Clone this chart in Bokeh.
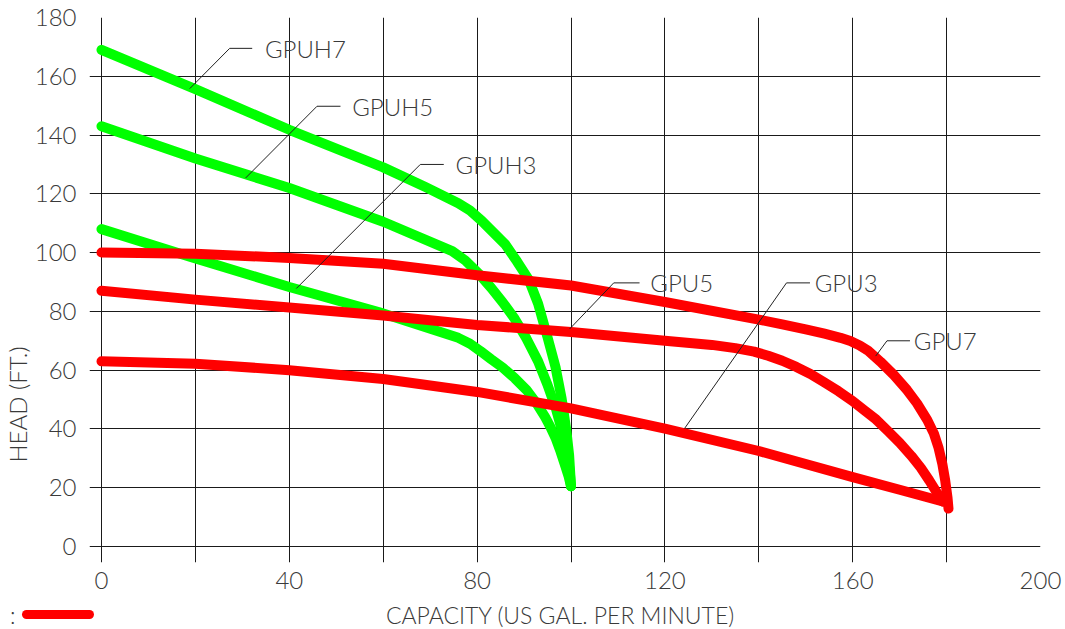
from bokeh.plotting import figure
from bokeh.layouts import column
from bokeh.models import Range1d, FixedTicker, Title
from bokeh.embed import file_html
from bokeh.resources import INLINE
from bokeh.core.properties import value

FONT = "Lato Light, Lato"
FS = "24px"
TXT = "#3a3a3a"

# ---- data ----
x_ticks = [0, 20, 40, 60, 80, 100, 120, 140, 160, 180, 200]
x_tick_labels = {20: "", 60: "", 100: "", 140: "", 180: ""}
y_ticks = [0, 20, 40, 60, 80, 100, 120, 140, 160, 180]

gpuh7_q = [0, 20, 40, 60, 69, 76, 78.5, 81, 83.5, 86, 88.5, 91, 93, 95, 96.7, 98, 99, 99.6, 100]
gpuh7_h = [169, 155.6, 141.8, 129, 122.3, 116.8, 114.3, 110.8, 106.8, 102.8, 97, 90.8, 82.6, 71.2, 61.1, 50.4, 39.6, 31, 20.5]

gpuh5_q = [0, 20, 40, 60, 74.7, 77.5, 80.5, 83, 85.5, 88, 90.5, 93, 95, 96.8, 98.2, 99.2, 99.7, 100]
gpuh5_h = [143, 132, 122, 110.5, 100.5, 97.3, 92.6, 88, 83, 77.5, 70.8, 63, 55, 46.8, 38.7, 31.6, 26, 20.5]

gpuh3_q = [0, 19, 40, 59, 76, 78.5, 80.7, 83, 85.5, 88, 90.5, 92.8, 94.5, 95.6, 96.8, 97.8, 98.8, 99.5, 100]
gpuh3_h = [108, 98.5, 88.3, 79.8, 71, 69, 66.5, 63.7, 60.8, 57.3, 53.3, 48.4, 44, 40.7, 36.6, 32.2, 27.3, 23.8, 20.5]

gpu7_q = [0, 20, 40, 60, 80, 100, 120, 140, 145, 150, 154, 157.4, 159.5, 161.5, 163.3, 165.9, 168.8,
          171.6, 173.7, 175.9, 177.3, 178.3, 179.1, 179.7, 180.2, 180.4]
gpu7_h = [100, 99.6, 98.2, 96.2, 92.3, 88.8, 83.2, 77.2, 75.6, 73.9, 72.4, 71.0, 69.9, 68.4, 66.6, 62.9, 58.3,
          53.2, 48.7, 43.0, 38.4, 33.5, 28.0, 22.5, 16.5, 12.9]

gpu5_q = [0, 20, 40, 60, 80, 100, 120, 130, 135, 139, 142, 145, 148, 151, 154, 157, 160, 162.5, 165,
          167.5, 170, 172.5, 174.5, 176.3, 177.8, 179.2]
gpu5_h = [87, 84, 81.3, 78.6, 75.4, 73, 70, 68.6, 67.5, 66.3, 64.9, 63.2, 61.1, 58.7, 55.8, 52.8, 49.5, 46.3, 43.2,
          39.3, 35.3, 30.8, 26.8, 22.5, 18.7, 15.3]

gpu3_q = [0, 20, 40, 60, 80, 100, 120, 140, 160, 170, 179.2]
gpu3_h = [63, 62.2, 60, 57, 52.6, 47, 40.1, 32.5, 23.6, 19.3, 15.3]

# curve labels with leader lines (tip on curve -> elbow -> end)
label_names = ["GPUH7", "GPUH5", "GPUH3", "GPU5", "GPU3", "GPU7"]
label_x = [34.8, 53.4, 75.4, 116.9, 151.9, 173.0]
label_y = [169.5, 149.8, 130.0, 89.7, 89.7, 70.0]
leader_tip_x = [18.8, 30.7, 41.5, 99.7, 124.2, 164.9]
leader_tip_y = [155.8, 125.4, 87.8, 74.0, 40.2, 64.8]
leader_elbow_x = [27.3, 45.9, 67.9, 109.1, 145.9, 167.3]
leader_end_x = [32.1, 50.9, 72.9, 114.6, 150.9, 172.2]

x_title = "CAPACITY (US GAL. PER MINUTE)"
y_title = "HEAD (FT.)"

GREEN = "#00ff00"
RED = "#ff0000"
LW = 10

# ---- main figure ----
p = figure(frame_width=951, frame_height=545,
           min_border_left=89, min_border_right=25, min_border_top=17, min_border_bottom=38,
           x_range=Range1d(-2.556, 200), y_range=Range1d(-5.44, 180),
           output_backend="svg", toolbar_location=None)
p.outline_line_color = None
p.background_fill_color = "white"
p.border_fill_color = "white"

for ax in (p.xaxis[0], p.yaxis[0]):
    ax.axis_line_color = None
    ax.major_tick_line_color = None
    ax.minor_tick_line_color = None
    ax.major_tick_out = 0
    ax.major_tick_in = 0
    ax.major_label_text_font = FONT
    ax.major_label_text_font_size = FS
    ax.major_label_text_color = TXT

p.xaxis.ticker = FixedTicker(ticks=x_ticks)
p.xaxis.major_label_overrides = x_tick_labels
p.xaxis.major_label_standoff = 9
p.yaxis.ticker = FixedTicker(ticks=y_ticks)
p.yaxis.major_label_standoff = 13

p.xgrid.ticker = FixedTicker(ticks=x_ticks)
p.ygrid.ticker = FixedTicker(ticks=y_ticks)
for g in (p.xgrid[0], p.ygrid[0]):
    g.grid_line_color = "#1a1a1a"
    g.grid_line_width = 1

for q, h in ((gpuh7_q, gpuh7_h), (gpuh5_q, gpuh5_h), (gpuh3_q, gpuh3_h)):
    p.line(q, h, line_color=GREEN, line_width=LW, line_cap="round", line_join="round")
for q, h in ((gpu7_q, gpu7_h), (gpu5_q, gpu5_h), (gpu3_q, gpu3_h)):
    p.line(q, h, line_color=RED, line_width=LW, line_cap="round", line_join="round")

lxs = [[t, e, n] for t, e, n in zip(leader_tip_x, leader_elbow_x, leader_end_x)]
lys = [[ty, ly, ly] for ty, ly in zip(leader_tip_y, label_y)]
p.multi_line(xs=lxs, ys=lys, line_color="#222222", line_width=1)
p.text(x=label_x, y=label_y, text=label_names, text_font=value(FONT), text_font_size=FS,
       text_align="left", text_baseline="middle", text_color=TXT)

p.add_layout(Title(text=y_title, align="left", offset=100, standoff=0,
                   text_font=FONT, text_font_size=FS, text_font_style="normal",
                   text_color=TXT), "left")

# ---- bottom strip: ":" + red swatch (drawn as the strip's axis tick) and the x title ----
s = figure(frame_width=951, frame_height=29,
           min_border_left=89, min_border_right=25, min_border_top=0, min_border_bottom=0,
           x_range=Range1d(89, 1040), y_range=Range1d(629, 600),
           x_axis_location=None,
           output_backend="svg", toolbar_location=None)
s.outline_line_color = None
s.background_fill_color = "white"
s.border_fill_color = "white"
s.xgrid.visible = False
s.ygrid.visible = False
sa = s.yaxis[0]
sa.axis_line_color = None
sa.ticker = FixedTicker(ticks=[614])
sa.major_label_overrides = {614: ":"}
sa.major_tick_out = 63
sa.major_tick_in = 0
sa.major_tick_line_color = RED
sa.major_tick_line_width = 9
sa.major_tick_line_cap = "round"
sa.minor_tick_line_color = None
sa.major_label_standoff = 11
sa.major_label_text_font = FONT
sa.major_label_text_font_size = "23px"
sa.major_label_text_color = TXT

s.text(x=[560], y=[614], text=[x_title], text_font=value(FONT), text_font_size="23px",
       text_align="center", text_baseline="middle", text_color=TXT)

page = column(p, s, spacing=0)
open("out.html", "w").write(file_html(page, INLINE))
